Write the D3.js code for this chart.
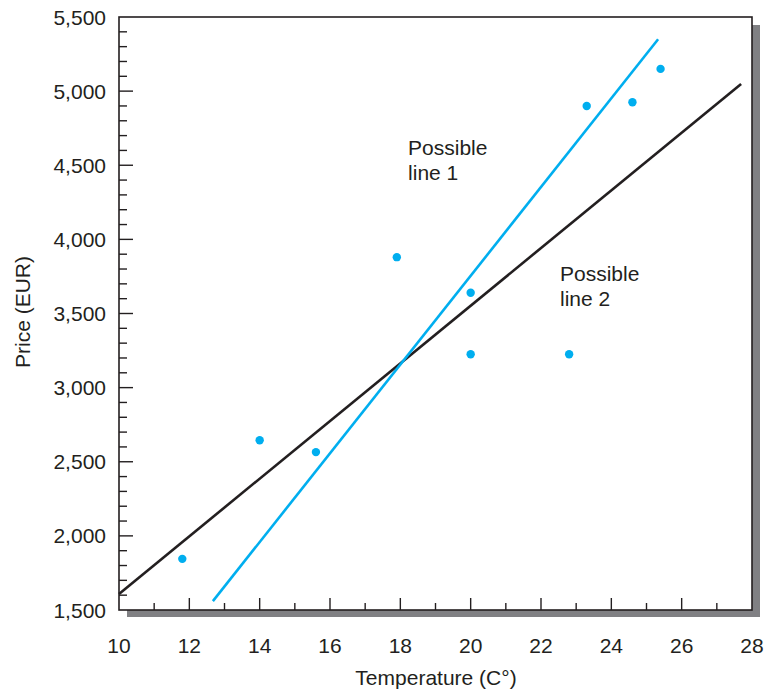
<!DOCTYPE html>
<html><head><meta charset="utf-8">
<script src="https://cdn.jsdelivr.net/npm/d3@7"></script>
<style>body{margin:0;background:#fff}svg{display:block;font-family:"Liberation Sans",Arial,sans-serif}</style>
</head><body>
<script>
const tempX = [11.8, 14.0, 15.6, 17.9, 20.0, 20.0, 22.8, 23.3, 24.6, 25.4];
const priceY = [1845, 2645, 2565, 3880, 3640, 3225, 3225, 4900, 4925, 5150];
const line1 = [[12.67, 1560], [25.33, 5350]];
const line2 = [[10.0, 1608], [27.69, 5048]];
const xTicks = [10, 12, 14, 16, 18, 20, 22, 24, 26, 28];
const yTicks = [1500, 2000, 2500, 3000, 3500, 4000, 4500, 5000, 5500];
const labels = [
  {lines: ["Possible", "line 1"], x: 18.22, y: 4569},
  {lines: ["Possible", "line 2"], x: 22.54, y: 3719}
];

const W = 767, H = 694;
const m = {l: 119, t: 17, r: 15, b: 84};
const FS = 21;
const svg = d3.select("body").append("svg").attr("width", W).attr("height", H);
const x = d3.scaleLinear().domain([10, 28]).range([m.l, W - m.r]);
const y = d3.scaleLinear().domain([1500, 5500]).range([H - m.b, m.t]);
const x0 = x.range()[0], x1 = x.range()[1], y0 = y.range()[0], y1 = y.range()[1];

// shadow
svg.append("rect").attr("x", x1).attr("y", y1 + 8).attr("width", 8).attr("height", y0 - y1 - 1).attr("fill", "#808083");
svg.append("rect").attr("x", x0 + 8).attr("y", y0).attr("width", x1 - x0).attr("height", 7).attr("fill", "#808083");
// frame
svg.append("rect").attr("x", x0).attr("y", y1).attr("width", x1 - x0).attr("height", y0 - y1)
  .attr("fill", "#fff").attr("stroke", "#231f20").attr("stroke-width", 1.6);

// ticks (inward)
const ink = "#231f20";
const yMinor = d3.range(1600, 5500, 100).filter(v => v % 500 !== 0);
const gy = svg.append("g");
gy.selectAll("line.maj").data(yTicks.slice(1, -1)).join("line")
  .attr("x1", x0).attr("x2", x0 + 14).attr("y1", d => y(d)).attr("y2", d => y(d)).attr("stroke", ink).attr("stroke-width", 1.4);
gy.selectAll("line.min").data(yMinor).join("line")
  .attr("x1", x0).attr("x2", x0 + 8).attr("y1", d => y(d)).attr("y2", d => y(d)).attr("stroke", ink).attr("stroke-width", 1.4);
const xMinor = d3.range(11, 28, 2);
const gx = svg.append("g");
gx.selectAll("line.maj").data(xTicks.slice(1, -1)).join("line")
  .attr("x1", d => x(d)).attr("x2", d => x(d)).attr("y1", y0).attr("y2", y0 - 12).attr("stroke", ink).attr("stroke-width", 1.4);
gx.selectAll("line.min").data(xMinor).join("line")
  .attr("x1", d => x(d)).attr("x2", d => x(d)).attr("y1", y0).attr("y2", y0 - 7).attr("stroke", ink).attr("stroke-width", 1.4);

// tick labels
svg.append("g").selectAll("text").data(yTicks).join("text")
  .attr("x", x0 - 13).attr("y", d => y(d) + 7.5).attr("text-anchor", "end")
  .attr("font-size", FS).attr("fill", ink).text(d => d3.format(",")(d));
svg.append("g").selectAll("text").data(xTicks).join("text")
  .attr("x", d => x(d)).attr("y", 653).attr("text-anchor", "middle")
  .attr("font-size", FS).attr("fill", ink).text(d => d);

// axis titles
svg.append("text").attr("x", 436).attr("y", 685).attr("text-anchor", "middle")
  .attr("font-size", FS).attr("fill", ink).text("Temperature (C\u00B0)");
svg.append("text").attr("transform", "translate(30,312) rotate(-90)").attr("text-anchor", "middle")
  .attr("font-size", FS).attr("fill", ink).text("Price (EUR)");

// lines
const lg = d3.line().x(d => x(d[0])).y(d => y(d[1]));
svg.append("path").attr("d", lg(line2)).attr("stroke", ink).attr("stroke-width", 2.6).attr("fill", "none");
svg.append("path").attr("d", lg(line1)).attr("stroke", "#00aeef").attr("stroke-width", 2.6).attr("fill", "none");

// points
svg.append("g").selectAll("circle").data(tempX.map((t, i) => [t, priceY[i]])).join("circle")
  .attr("cx", d => x(d[0])).attr("cy", d => y(d[1])).attr("r", 4.2).attr("fill", "#00aeef");

// labels
labels.forEach(l => {
  const t = svg.append("text").attr("font-size", FS).attr("fill", ink);
  l.lines.forEach((s, i) => t.append("tspan").attr("x", x(l.x)).attr("y", y(l.y) + i * 25).text(s));
});
</script>
</body></html>
